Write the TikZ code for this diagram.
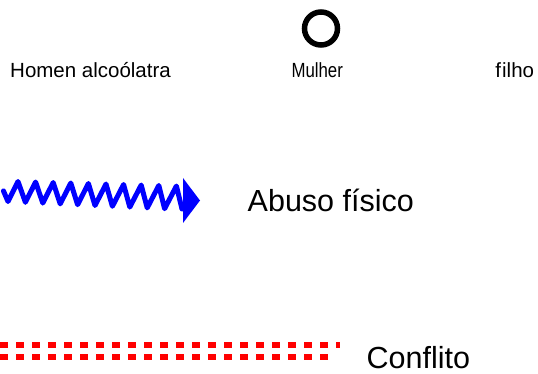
\documentclass[tikz,border=0pt]{standalone}
\usepackage{fontspec}
\setmainfont{Liberation Sans}
\definecolor{abuseblue}{RGB}{0,0,255}
\definecolor{conflictred}{RGB}{255,0,0}
\tikzset{
  smalllabel/.style={inner sep=0pt, anchor=base, font=\fontsize{20.5}{24}\selectfont},
  biglabel/.style={inner sep=0pt, anchor=base west, text depth=0pt, font=\fontsize{30.5}{36}\selectfont},
  abuseline/.style={abuseblue, line width=5pt, line join=round, line cap=round},
  conflictline/.style={conflictred, dash pattern=on 7.5pt off 8.5pt, line cap=butt}
}
\begin{document}
\begin{tikzpicture}[x=1pt, y=-1pt]
  \useasboundingbox (0,0) rectangle (538,374);

  % symbol row
  \node[circle, draw=black, line width=5.5pt, minimum size=33pt, inner sep=0pt] (woman) at (321,28.5) {};
  \node[smalllabel, anchor=base west] (man) at (10,77.3) {Homen alcoólatra};
  \node[smalllabel] (womanlabel) at (317.2,77.3) {\scalebox{0.82}[1]{Mulher}};
  \node[smalllabel] (child) at (514.7,77.3) {f\kern1.2pt ilho};

  % physical abuse: zigzag ending in a solid arrow head
  \coordinate (zstart) at (3.5,191);
  \coordinate (zend) at (182,209);
  \draw[abuseline] (zstart)
    -- (8,201.5) -- (18,181.5)
    -- (25.4,202.3) -- (35.6,182)
    -- (42.8,203.1) -- (53.2,182.5)
    -- (60.2,203.9) -- (70.8,183)
    -- (77.6,204.7) -- (88.4,183.5)
    -- (95,205.5) -- (106,184)
    -- (112.4,206.3) -- (123.6,184.5)
    -- (129.8,207.1) -- (141.2,185)
    -- (147.2,207.9) -- (158.8,185.5)
    -- (164.6,208.7) -- (176.4,186)
    -- (zend);
  \fill[abuseblue] (183,178) -- (200,200.5) -- (183,223) -- cycle;
  \node[biglabel] (abuse) at (247.5,211.7) {Abuso físico};

  % conflict: double dashed line
  \coordinate (c1a) at (0,345);
  \coordinate (c1b) at (339.5,345);
  \coordinate (c2a) at (0,357);
  \coordinate (c2b) at (327.5,357);
  \draw[conflictline, line width=5.4pt] (c1a) -- (c1b);
  \draw[conflictline, line width=6pt] (c2a) -- (c2b);
  \node[biglabel] (conflict) at (366.5,368) {Conflito};
\end{tikzpicture}
\end{document}
